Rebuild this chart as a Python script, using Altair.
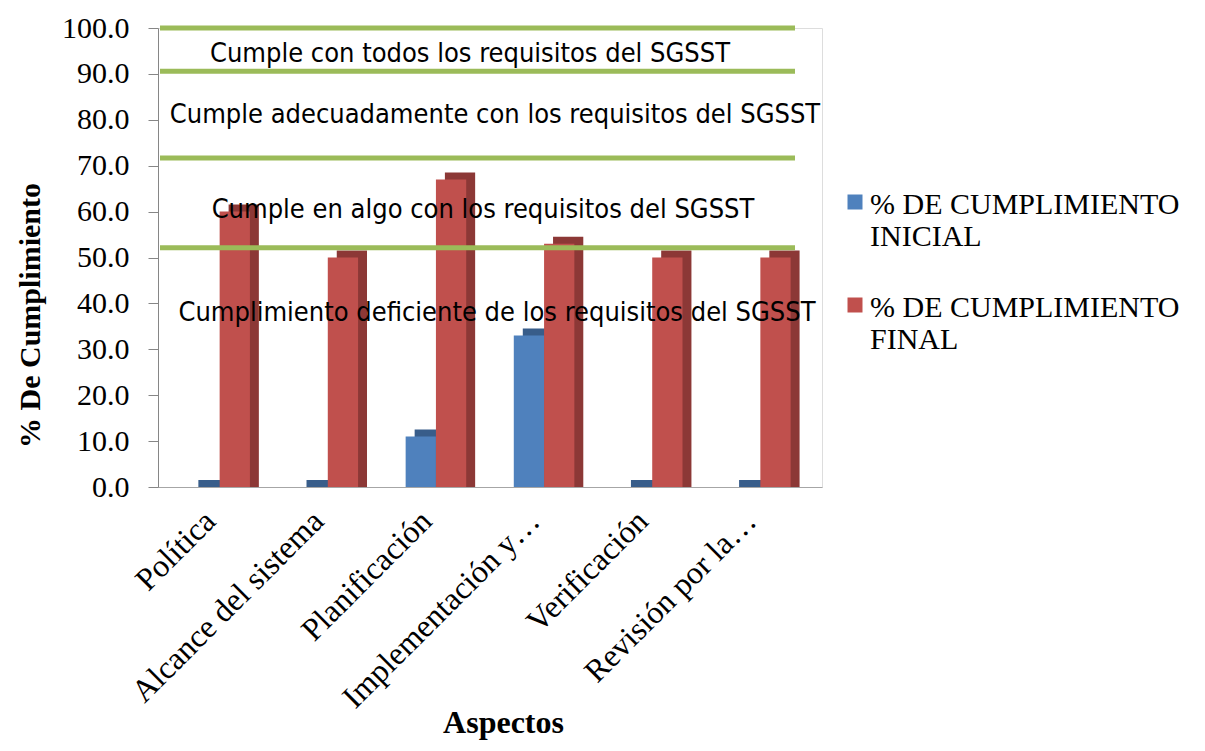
import altair as alt
import pandas as pd

categorias = ["Política", "Alcance del sistema", "Planificación",
              "Implementación y…", "Verificación", "Revisión por la…"]
inicial = [0, 0, 11, 33, 0, 0]
final = [60, 50, 67, 53, 50, 50]
serie_ini = "% DE CUMPLIMIENTO INICIAL"
serie_fin = "% DE CUMPLIMIENTO FINAL"

niveles = [100, 90.6, 71.7, 52.1]
textos = ["Cumple con todos los requisitos del SGSST",
          "Cumple adecuadamente con los requisitos del SGSST",
          "Cumple en algo con los requisitos del SGSST",
          "Cumplimiento deficiente de los requisitos del SGSST"]
textos_y = [94.3, 81.0, 60.3, 37.9]

rows = []
for c, a, b in zip(categorias, inicial, final):
    rows.append({"Aspecto": c, "Serie": serie_ini, "Valor": a})
    rows.append({"Aspecto": c, "Serie": serie_fin, "Valor": b})
df = pd.DataFrame(rows)
df_lines = pd.DataFrame({"nivel": niveles})

SERIF = "Liberation Serif"
NARROW = "Liberation Sans Narrow, DejaVu Sans Condensed, sans-serif"
SERIES = [serie_ini, serie_fin]

# layout constants
DEPTH_X = 9          # 3D side depth (px)
DEPTH_Y = 7          # 3D top depth (px)
BAND = 60.5          # bandwidth of a category group
TEXT_X = [312, 337, 325, 339]

xscale = alt.Scale(domain=categorias, paddingInner=0.44, paddingOuter=0.29)
yscale = alt.Scale(domain=[0, 100], nice=False)

x_enc = alt.X("Aspecto:N", scale=xscale, sort=categorias,
              axis=alt.Axis(title="Aspectos", labelAngle=-45, labelFont=SERIF,
                            labelFontSize=32, labelColor="black", labelPadding=18,
                            labelOffset=-20, labelLimit=400, ticks=False,
                            domainColor="#a6a6a6",
                            titleFont=SERIF, titleFontSize=32, titleFontWeight="bold",
                            titleColor="black", titleY=235, titleX=345,
                            titleBaseline="middle"))
y_enc = alt.Y("Valor:Q", scale=yscale,
              axis=alt.Axis(title="% De Cumplimiento", values=list(range(0, 101, 10)),
                            format=".1f", labelFont=SERIF, labelFontSize=30,
                            labelColor="black", grid=False, tickColor="#868686",
                            domainColor="#868686", tickSize=10, labelPadding=19,
                            titleFont=SERIF, titleFontSize=30, titleFontWeight="bold",
                            titleColor="black", titleX=-128, titleY=287,
                            titleBaseline="middle"))

shadow = alt.Chart(df).mark_bar(yOffset=-DEPTH_Y).encode(
    x=x_enc,
    xOffset=alt.XOffset("Serie:N", sort=SERIES,
                        scale=alt.Scale(domain=SERIES, range=[DEPTH_X, BAND + DEPTH_X],
                                        paddingInner=0, paddingOuter=0)),
    y=y_enc,
    y2=alt.datum(0),
    color=alt.Color("Serie:N", scale=alt.Scale(domain=SERIES,
                                               range=["#385D8A", "#8C3836"]),
                    legend=None),
)

front = alt.Chart(df).mark_bar().encode(
    x=x_enc,
    xOffset=alt.XOffset("Serie:N", sort=SERIES,
                        scale=alt.Scale(domain=SERIES, paddingInner=0, paddingOuter=0)),
    y=y_enc,
    fill=alt.Fill("Serie:N", scale=alt.Scale(domain=SERIES,
                                             range=["#4F81BD", "#C0504D"]),
                  legend=alt.Legend(title=None, orient="none", legendX=682, legendY=171,
                                    labelFont=SERIF, labelFontSize=30, labelColor="black",
                                    labelExpr="[slice(datum.label,0,17), slice(datum.label,18)]",
                                    labelLimit=600, labelBaseline="alphabetic",
                                    symbolType="M-0.5,-1.3H0.5V-0.3H-0.5Z",
                                    symbolSize=900, symbolStrokeWidth=0,
                                    rowPadding=41, labelOffset=0)),
)

lines = alt.Chart(df_lines).mark_rule(color="#9BBB59", strokeWidth=5).encode(
    y=alt.Y("nivel:Q", scale=yscale),
    x=alt.value(2), x2=alt.value(637),
)

label_layers = []
for t, yv, xp in zip(textos, textos_y, TEXT_X):
    label_layers.append(
        alt.Chart(pd.DataFrame({"texto": [t], "y": [yv]})).mark_text(
            font=NARROW, fontSize=27, color="black", baseline="middle"
        ).encode(y=alt.Y("y:Q", scale=yscale), x=alt.value(xp), text="texto:N")
    )

chart = alt.layer(shadow, front, lines, *label_layers).resolve_scale(
    color="independent", xOffset="independent"
).properties(
    width=664, height=459,
    autosize=alt.AutoSizeParams(type="none"),
    padding={"left": 150, "top": 20, "right": 375, "bottom": 256},
).configure_view(strokeWidth=0).configure(background="white")

chart.save("out.html", embed_options={"renderer": "svg", "actions": False})
